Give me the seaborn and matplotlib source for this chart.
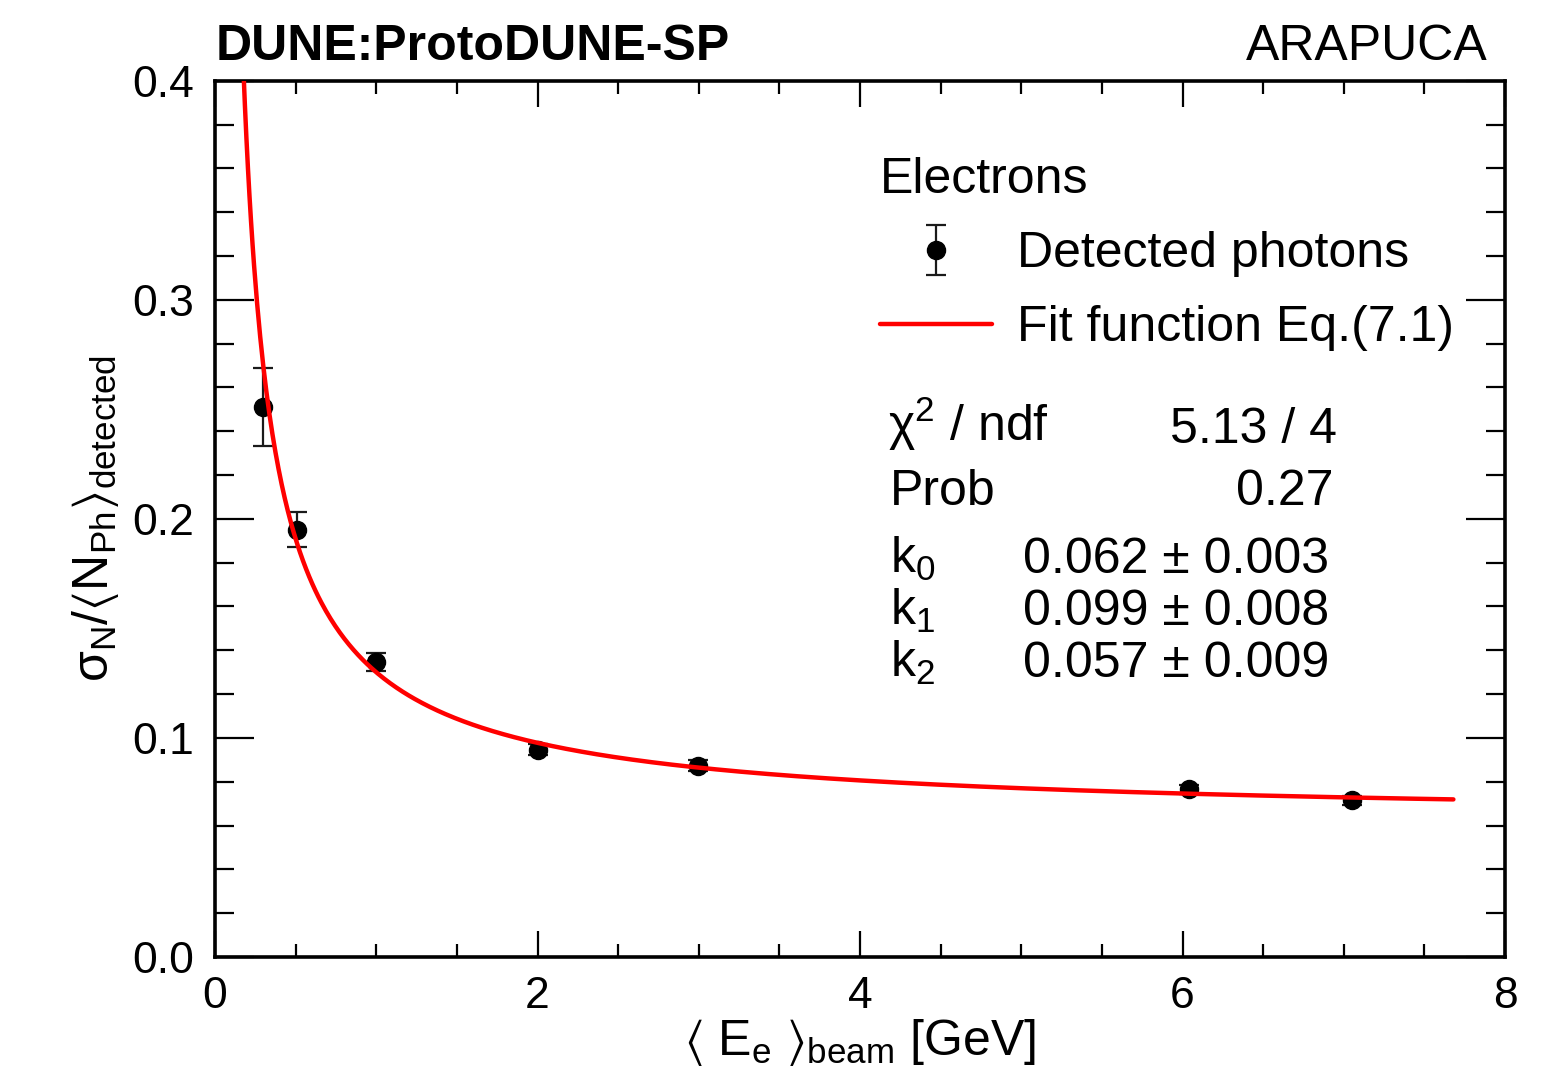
import numpy as np
import pandas as pd
import matplotlib
matplotlib.use("Agg")
import matplotlib.pyplot as plt
from matplotlib.ticker import MultipleLocator, FormatStrFormatter
import seaborn as sns

# Measured photon-count resolution vs. beam energy (electrons)
beam_energy = [0.30, 0.506, 1.00, 2.00, 2.995, 6.04, 7.05]
resolution = [0.251, 0.195, 0.1345, 0.0945, 0.0873, 0.0766, 0.0716]
resolution_err = [0.0177, 0.0079, 0.0041, 0.0025, 0.0025, 0.002, 0.002]

# Fit parameters of Eq.(7.1): sqrt(k0^2 + k1^2/E + k2^2/E^2)
k0, k1, k2 = 0.062, 0.099, 0.057
fit_range = (0.1, 7.68)

x_ticks = [0, 2, 4, 6, 8]
y_ticks = [0.0, 0.1, 0.2, 0.3, 0.4]

sns.set_theme(style="white")
plt.rcParams.update({
    "font.family": ["Liberation Sans", "DejaVu Sans"],
    "mathtext.fontset": "custom",
    "mathtext.rm": "Liberation Sans",
    "mathtext.it": "Liberation Sans:italic",
    "mathtext.bf": "Liberation Sans:bold",
    "mathtext.default": "regular",
    "text.color": "black",
    "axes.labelcolor": "black",
    "xtick.color": "black",
    "ytick.color": "black",
})

W, H = 1558, 1079
fig = plt.figure(figsize=(W / 100, H / 100), dpi=100)
fig.patch.set_facecolor("white")

def fx(px):
    return px / W

def fy(py):
    return 1 - py / H

ax_left, ax_right, ax_top, ax_bottom = 215, 1505, 80.7, 957
ax = fig.add_axes([fx(ax_left), fy(ax_bottom), (ax_right - ax_left) / W, (ax_bottom - ax_top) / H])
ax.set_facecolor("white")

# data points with vertical error bars
points = ax.errorbar(beam_energy, resolution, yerr=resolution_err, fmt="o",
                     color="black", ms=13, ecolor="#1a1a1a", elinewidth=1.6,
                     capsize=7, capthick=1.6, zorder=2, label="Detected photons")

# fit curve drawn from the fitted parameters
E = np.linspace(fit_range[0], fit_range[1], 800)
fit_df = pd.DataFrame({"E": E, "res": np.sqrt(k0**2 + k1**2 / E + k2**2 / E**2)})
sns.lineplot(data=fit_df, x="E", y="res", color="#ff0000", lw=3.2, ax=ax,
             zorder=3, label="Fit function Eq.(7.1)", legend=False)

ax.set_xlim(0, 8)
ax.set_ylim(0, 0.4)
ax.set_xticks(x_ticks)
ax.set_yticks(y_ticks)
ax.xaxis.set_major_formatter(FormatStrFormatter("%d"))
ax.yaxis.set_major_formatter(FormatStrFormatter("%.1f"))
ax.xaxis.set_minor_locator(MultipleLocator(0.5))
ax.yaxis.set_minor_locator(MultipleLocator(0.02))

ax.tick_params(which="both", direction="in", top=True, right=True,
               bottom=True, left=True, width=1.6, color="black", labelsize=32)
ax.tick_params(axis="y", which="major", length=28, pad=15)
ax.tick_params(axis="y", which="minor", length=14)
ax.tick_params(axis="x", which="major", length=19, pad=14)
ax.tick_params(axis="x", which="minor", length=9.5)
for sp in ax.spines.values():
    sp.set_linewidth(2.6)
    sp.set_color("black")
    sp.set_visible(True)

ax.set_xlabel(r"$\langle\ E_{e}\ \rangle_{beam}$ [GeV]", fontsize=36)
ax.set_ylabel(r"$\sigma_{N}/\langle N_{Ph}\rangle_{detected}$", fontsize=36)
ax.xaxis.set_label_coords(0.5, -0.068)
ax.yaxis.set_label_coords(-0.073, 0.5)

# legend
handles, labels = ax.get_legend_handles_labels()
order = [labels.index("Detected photons"), labels.index("Fit function Eq.(7.1)")]
leg = ax.legend([handles[i] for i in order], [labels[i] for i in order],
                title="Electrons", title_fontsize=36, fontsize=36,
                loc="upper left", bbox_to_anchor=(fx(880), fy(157)),
                bbox_transform=fig.transFigure, frameon=False, borderpad=0,
                borderaxespad=0, handlelength=2.24, handletextpad=0.5,
                labelspacing=0.56)
leg._legend_box.align = "left"

# fit statistics
fs = 36
fig.text(fx(888), fy(441), r"$\chi^{2}$ / ndf", fontsize=fs, va="baseline", ha="left")
fig.text(fx(1337), fy(443), "5.13 / 4", fontsize=fs, va="baseline", ha="right")
fig.text(fx(890), fy(505), "Prob", fontsize=fs, va="baseline", ha="left")
fig.text(fx(1334), fy(505), "0.27", fontsize=fs, va="baseline", ha="right")
params = [("k$_{0}$", "0.062 ± 0.003", 573),
          ("k$_{1}$", "0.099 ± 0.008", 625),
          ("k$_{2}$", "0.057 ± 0.009", 677)]
for name, val, base in params:
    fig.text(fx(890), fy(base), name, fontsize=fs, va="baseline", ha="left")
    fig.text(fx(1329), fy(base), val, fontsize=fs, va="baseline", ha="right")

# header
fig.text(fx(216), fy(60), "DUNE:ProtoDUNE-SP", fontsize=36, fontweight="bold",
         va="baseline", ha="left")
fig.text(fx(1488), fy(60), "ARAPUCA", fontsize=36, va="baseline", ha="right")

fig.savefig("out.png", dpi=100, facecolor="white")
